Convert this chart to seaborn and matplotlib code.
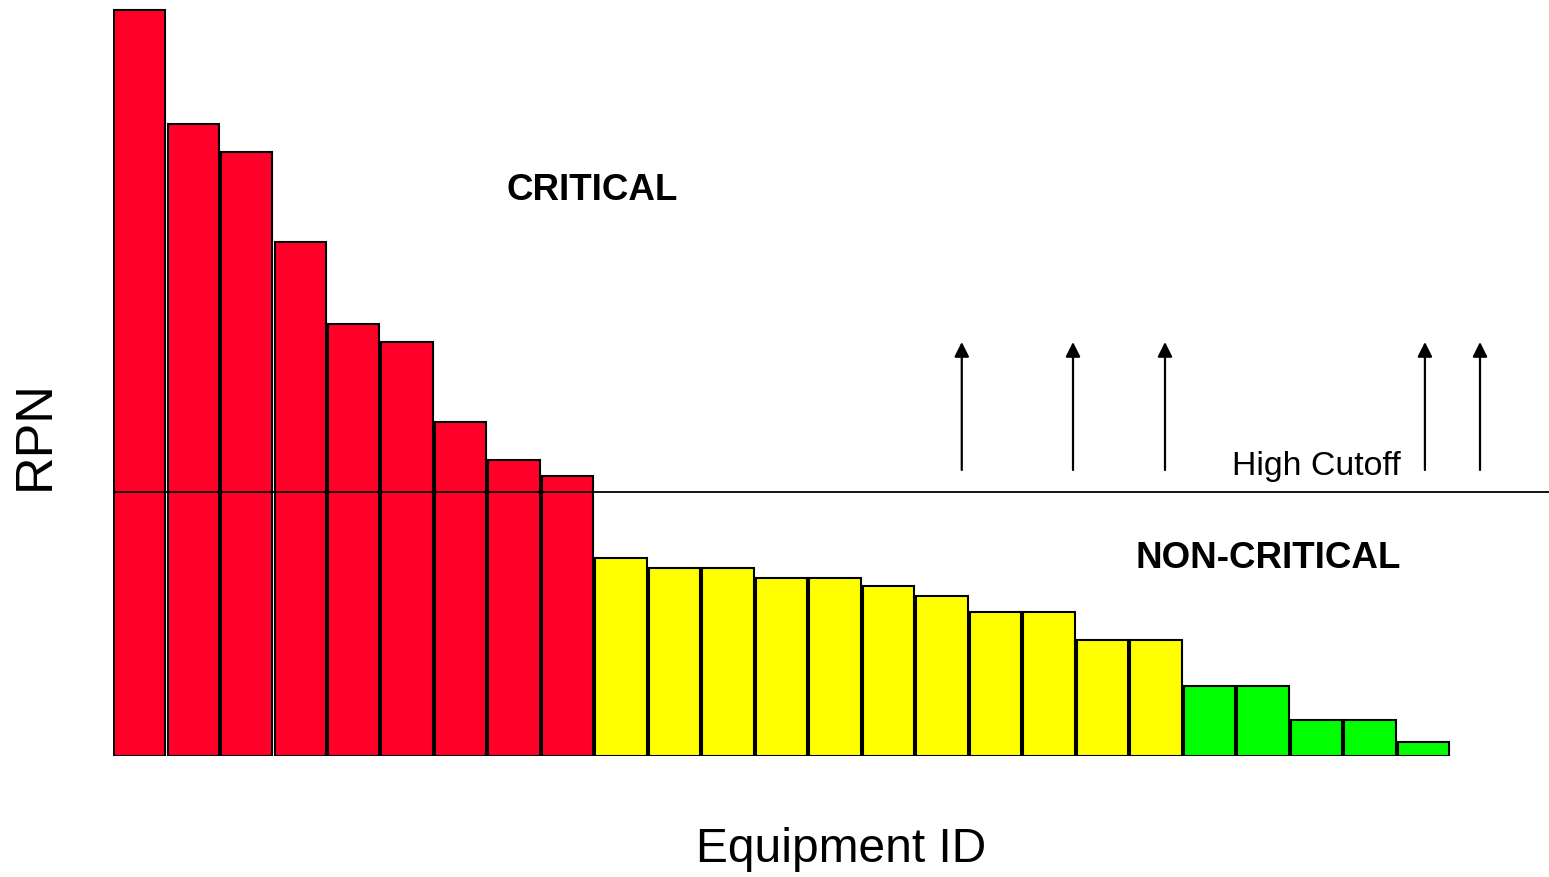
import pandas as pd
import matplotlib
matplotlib.use("Agg")
import matplotlib.pyplot as plt
import seaborn as sns

# data (RPN per equipment, sorted descending)
equipment = [f"EQ-{i:02d}" for i in range(1, 26)]
rpn = [373, 316, 302, 257, 216, 207, 167, 148, 140,
       99, 94, 94, 89, 89, 85, 80, 72, 72, 58, 58,
       35, 35, 18, 18, 7]
level = ["High"] * 9 + ["Medium"] * 11 + ["Low"] * 5
high_cutoff = 132
arrow_x = [15.37, 17.45, 19.17, 24.03, 25.06]

colors = {"High": "#FF0028", "Medium": "#FFFF00", "Low": "#00FF00"}

df = pd.DataFrame({"Equipment ID": equipment, "RPN": rpn, "Level": level})

sns.set_style("white")
plt.rcParams["font.family"] = ["Liberation Sans", "DejaVu Sans"]
plt.rcParams["text.color"] = "black"
plt.rcParams["axes.labelcolor"] = "black"

fig = plt.figure(figsize=(15.49, 8.77), dpi=100)
ax = fig.add_axes([113 / 1549, 121 / 877, 1436 / 1549, 756 / 877])

sns.barplot(data=df, x="Equipment ID", y="RPN", hue="Level", palette=colors,
            dodge=False, width=0.96, edgecolor="black", linewidth=1.5,
            saturation=1, legend=False, ax=ax)

ax.set_xlim(-0.5, 26.35)
ax.set_ylim(0, 378)

# cutoff line and arrows
ax.axhline(high_cutoff, color="black", lw=1.3, zorder=5)
for x in arrow_x:
    ax.annotate("", xy=(x, 207), xytext=(x, 143),
                arrowprops=dict(arrowstyle="-|>", color="black", lw=1.6,
                                mutation_scale=22, shrinkA=0, shrinkB=0))

ax.text(8.46, 283, "CRITICAL", fontsize=26.5, fontweight="bold",
        ha="center", va="center")
ax.text(21.1, 99, "NON-CRITICAL", fontsize=26.5, fontweight="bold",
        ha="center", va="center")
ax.text(22.0, 145, "High Cutoff", fontsize=24.3, ha="center", va="center")

ax.set_xticks([])
ax.set_yticks([])
for s in ax.spines.values():
    s.set_visible(False)

ax.set_xlabel("Equipment ID", fontsize=34.5, va="center")
ax.xaxis.set_label_coords(0.507, -0.124)
ax.set_ylabel("RPN", fontsize=37.5, va="center")
ax.yaxis.set_label_coords(-0.0543, 0.4246)

fig.savefig("out.png", dpi=100)
